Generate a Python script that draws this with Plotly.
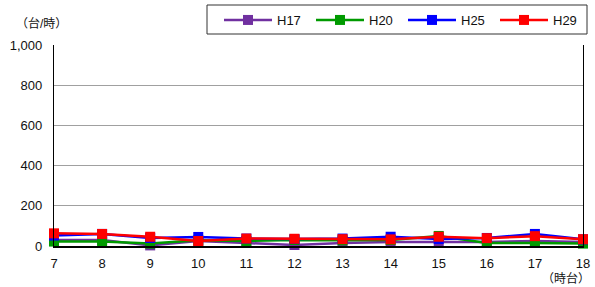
import plotly.graph_objects as go

hours = [7, 8, 9, 10, 11, 12, 13, 14, 15, 16, 17, 18]
h17 = [30, 30, 3, 25, 15, 5, 15, 20, 20, 20, 25, 20]
h20 = [22, 22, 12, 28, 25, 30, 28, 30, 50, 15, 15, 12]
h25 = [52, 60, 40, 45, 37, 35, 37, 46, 35, 40, 60, 33]
h29 = [63, 60, 46, 25, 37, 36, 34, 33, 46, 39, 49, 34]

series = [("H17", h17, "#7030A0"), ("H20", h20, "#009A00"),
          ("H25", h25, "#0000FF"), ("H29", h29, "#FF0000")]

fig = go.Figure()
for name, vals, col in series:
    fig.add_trace(go.Scatter(
        x=hours, y=vals, name=name, mode="lines+markers",
        line=dict(color=col, width=2.5),
        marker=dict(symbol="square", size=10, color=col),
        cliponaxis=False,
    ))

font = "Liberation Sans, Noto Sans CJK JP, sans-serif"
L, R, T, B = 54, 12, 45, 41
W, H = 595, 287
pw, ph = W - L - R, H - T - B


def px_x(v):
    return (v - L) / pw


def px_y(v):
    return (H - B - v) / ph


fig.update_layout(
    width=W, height=H,
    margin=dict(l=L, r=R, t=T, b=B, autoexpand=False),
    paper_bgcolor="white", plot_bgcolor="white",
    font=dict(family=font, size=12, color="#111111"),
    showlegend=True,
    legend=dict(
        orientation="h", xref="container", yref="container",
        x=219/595, y=1-5/287, xanchor="left", yanchor="top",
        bgcolor="rgba(0,0,0,0)", borderwidth=0,
        font=dict(size=13, family=font),
        entrywidth=29, entrywidthmode="pixels",
        itemwidth=48,
    ),
    xaxis=dict(
        range=[7, 18], tickmode="array", tickvals=hours,
        ticktext=[str(h) for h in hours],
        showgrid=False, showline=True, linecolor="black", linewidth=1.8,
        zeroline=False, ticks="", tickfont=dict(size=13),
        ticklabelstandoff=4,
    ),
    yaxis=dict(
        range=[0, 1000], tickmode="array",
        tickvals=[0, 200, 400, 600, 800, 1000],
        ticktext=["0", "200", "400", "600", "800", "1,000"],
        showgrid=True, gridcolor="#A0A0A0", gridwidth=1,
        showline=True, linecolor="black", linewidth=1.2, mirror=True,
        zeroline=False, ticks="", tickfont=dict(size=13),
        ticklabelstandoff=8,
    ),
)
fig.add_shape(type="rect", xref="paper", yref="paper",
              x0=px_x(207), x1=px_x(587), y0=px_y(34), y1=px_y(5),
              line=dict(color="#333333", width=1), fillcolor="rgba(0,0,0,0)",
              layer="above")
fig.add_annotation(text="（台/時）", xref="paper", yref="paper",
                   x=px_x(14), y=px_y(24), xanchor="left", yanchor="middle",
                   showarrow=False, font=dict(size=12, family=font))
fig.add_annotation(text="（時台）", xref="paper", yref="paper",
                   x=px_x(566), y=px_y(278), xanchor="center", yanchor="middle",
                   showarrow=False, font=dict(size=12, family=font))
fig.write_html("out.html", config={"displayModeBar": False},
               post_script="document.body.style.margin='0';document.body.style.overflow='hidden';")
